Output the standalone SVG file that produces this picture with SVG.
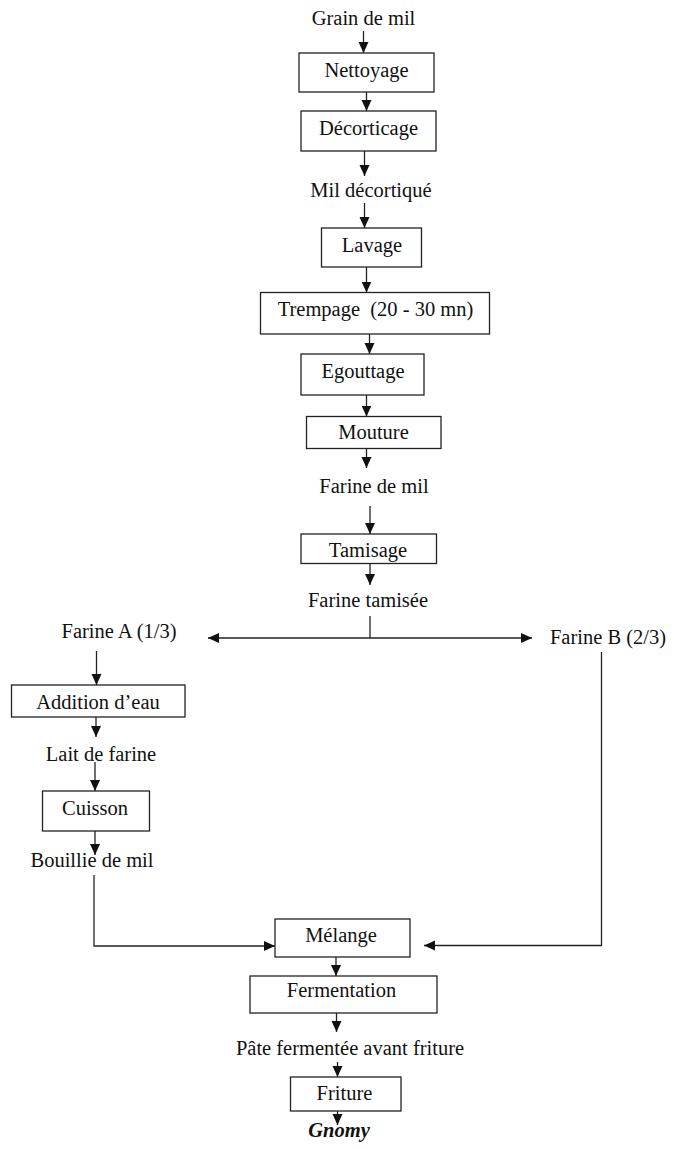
<svg xmlns="http://www.w3.org/2000/svg" width="674" height="1149" viewBox="0 0 674 1149">
<style>
text{font-family:"Liberation Serif","Times New Roman",serif;font-size:20.5px;fill:#111;text-anchor:middle}
.box{fill:#fff;stroke:#222;stroke-width:1.3}
.ln{fill:none;stroke:#222;stroke-width:1.3}
</style>
<defs>
<marker id="ah" markerUnits="userSpaceOnUse" markerWidth="12" markerHeight="12" refX="11" refY="5" orient="auto">
<path d="M0,0 L11,5 L0,10 z" fill="#111"/>
</marker>
</defs>
<rect width="674" height="1149" fill="#fff"/>
<g id="connectors">
<path class="ln" marker-end="url(#ah)" d="M363.5,31 V53"/>
<path class="ln" marker-end="url(#ah)" d="M366.5,92 V111"/>
<path class="ln" marker-end="url(#ah)" d="M364.5,151 V176"/>
<path class="ln" marker-end="url(#ah)" d="M364.5,203 V228"/>
<path class="ln" marker-end="url(#ah)" d="M366.5,267 V292.5"/>
<path class="ln" marker-end="url(#ah)" d="M369.5,334 V354"/>
<path class="ln" marker-end="url(#ah)" d="M366.5,395 V416.5"/>
<path class="ln" marker-end="url(#ah)" d="M366.5,448 V468"/>
<path class="ln" marker-end="url(#ah)" d="M370,506 V534"/>
<path class="ln" marker-end="url(#ah)" d="M370,563 V585"/>
<path class="ln" d="M370,616 V638"/>
<path class="ln" marker-end="url(#ah)" d="M370,638 H208"/>
<path class="ln" marker-end="url(#ah)" d="M370,638 H532"/>
<path class="ln" marker-end="url(#ah)" d="M96.5,651 V685"/>
<path class="ln" marker-end="url(#ah)" d="M96,717 V737"/>
<path class="ln" marker-end="url(#ah)" d="M95,762 V791"/>
<path class="ln" marker-end="url(#ah)" d="M95,831 V855"/>
<path class="ln" marker-end="url(#ah)" d="M94,875 V946 H275"/>
<path class="ln" marker-end="url(#ah)" d="M601.5,652 V945.5 H424"/>
<path class="ln" marker-end="url(#ah)" d="M336,957 V976"/>
<path class="ln" marker-end="url(#ah)" d="M336.5,1013 V1032"/>
<path class="ln" marker-end="url(#ah)" d="M337.5,1062 V1077"/>
<path class="ln" marker-end="url(#ah)" d="M337.5,1111 V1125"/>
</g>
<g id="n-grain"><text x="363.5" y="25">Grain de mil</text></g>
<g id="n-nettoyage"><rect class="box" x="299" y="53" width="135" height="39"/><text x="366.5" y="77">Nettoyage</text></g>
<g id="n-decorticage"><rect class="box" x="301" y="111" width="135" height="40"/><text x="368.5" y="135">Décorticage</text></g>
<g id="n-mil"><text x="371" y="197">Mil décortiqué</text></g>
<g id="n-lavage"><rect class="box" x="321.5" y="228" width="100" height="39"/><text x="372" y="252">Lavage</text></g>
<g id="n-trempage"><rect class="box" x="260.5" y="292.5" width="229" height="41.5"/><text x="375.5" y="316" xml:space="preserve">Trempage  (20 - 30 mn)</text></g>
<g id="n-egouttage"><rect class="box" x="301" y="354" width="123" height="41"/><text x="363" y="378">Egouttage</text></g>
<g id="n-mouture"><rect class="box" x="306.5" y="416.5" width="134.5" height="32"/><text x="373.5" y="439">Mouture</text></g>
<g id="n-farine"><text x="374" y="493">Farine de mil</text></g>
<g id="n-tamisage"><rect class="box" x="301" y="534" width="135.5" height="29.5"/><text x="368" y="557">Tamisage</text></g>
<g id="n-tamisee"><text x="368" y="607">Farine tamisée</text></g>
<g id="n-farineA"><text x="119" y="638">Farine A (1/3)</text></g>
<g id="n-farineB"><text x="608" y="644">Farine B (2/3)</text></g>
<g id="n-addition"><rect class="box" x="11.5" y="685" width="173.5" height="32"/><text x="98" y="709">Addition d’eau</text></g>
<g id="n-lait"><text x="101" y="761">Lait de farine</text></g>
<g id="n-cuisson"><rect class="box" x="42.5" y="791" width="107" height="40"/><text x="95" y="815">Cuisson</text></g>
<g id="n-bouillie"><text x="92" y="867">Bouillie de mil</text></g>
<g id="n-melange"><rect class="box" x="275" y="919" width="135" height="38"/><text x="341" y="942">Mélange</text></g>
<g id="n-fermentation"><rect class="box" x="250" y="976" width="187" height="37"/><text x="341.5" y="997">Fermentation</text></g>
<g id="n-pate"><text x="350" y="1055">Pâte fermentée avant friture</text></g>
<g id="n-friture"><rect class="box" x="290.5" y="1077" width="110.5" height="34"/><text x="344.5" y="1100">Friture</text></g>
<g id="n-gnomy"><text x="339" y="1137" style="font-weight:bold;font-style:italic">Gnomy</text></g>
</svg>
